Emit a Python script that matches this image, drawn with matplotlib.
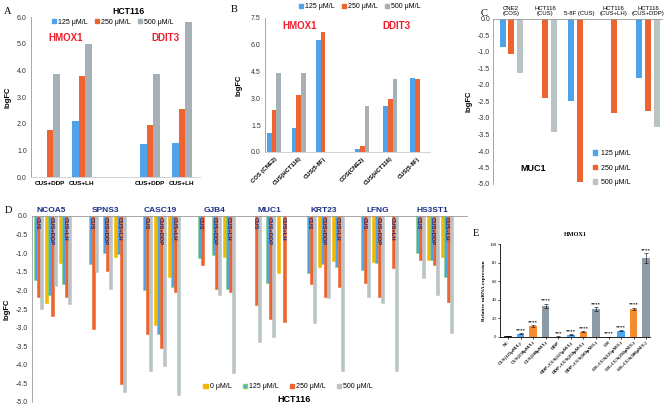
import numpy as np
import matplotlib.pyplot as plt
from matplotlib.patches import Patch

plt.rcParams['font.family'] = ['Liberation Sans', 'DejaVu Sans']

W, H = 668, 407

# ---------------- data ----------------
# A: HCT116, HMOX1 / DDIT3
a_labels = ['CUS+DDP', 'CUS+LH', 'CUS+DDP', 'CUS+LH']
a_pos = [0, 1, 3.125, 4.125]
a_125 = [np.nan, 2.1, 1.23, 1.28]
a_250 = [1.78, 3.8, 1.95, 2.55]
a_500 = [3.85, 5.0, 3.87, 5.82]

# B: HMOX1 / DDIT3 in several cell lines
b_labels = ['COS (CNE2)', 'CUS(HCT116)', 'CUS(5-8F)', 'COS(CNE2)', 'CUS(HCT116)', 'CUS(5-8F)']
b_pos = [0, 1, 2, 3.6, 4.75, 5.85]
b_125 = [1.05, 1.35, 6.25, 0.18, 2.6, 4.12]
b_250 = [2.35, 3.2, 6.7, 0.35, 2.97, 4.1]
b_500 = [4.4, 4.42, np.nan, 2.58, 4.1, np.nan]

# C: MUC1
c_labels = ['CNE2\n(COS)', 'HCT116\n(CUS)', '5-8F (CUS)', 'HCT116\n(CUS+LH)', 'HCT116\n(CUS+DDP)']
c_125 = [-0.85, np.nan, -2.5, np.nan, -1.8]
c_250 = [-1.07, -2.38, -4.95, -2.85, -2.78]
c_500 = [-1.65, -3.42, np.nan, np.nan, -3.28]

# D: HCT116 genes x treatments
d_genes = ['NCOA5', 'SPNS3', 'CASC19', 'GJB4', 'MUC1', 'KRT23', 'LFNG', 'HS3ST1']
d_treat = ['CUS', 'CUS+DDP', 'CUS+LH']
d_0 = [np.nan, -2.35, -1.25,  np.nan, np.nan, -1.09,  np.nan, -2.93, -1.63,  np.nan, np.nan, -1.09,
       np.nan, np.nan, -1.54,  np.nan, -1.36, -1.2,  np.nan, -1.23, np.nan,  np.nan, -1.18, -1.09]
d_125 = [-1.72, -2.12, -1.83,  -1.3, -0.99, -1.02,  -1.99, -3.17, -1.9,  -1.14, -1.05, -1.97,
         np.nan, -1.79, np.nan,  -1.54, -1.3, -1.38,  -1.45, -1.27, np.nan,  -1.0, -1.18, -1.63]
d_250 = [-2.17, -2.7, -2.18,  -3.05, -1.47, -4.52,  -3.17, -3.56, -2.03,  -1.32, -1.97, -2.03,
         -2.39, -2.78, -2.86,  -1.83, -2.17, -1.92,  -1.81, -2.17, -1.41,  -1.18, -1.32, -2.3]
d_500 = [-2.5, -1.88, -2.37,  -1.5, -1.95, -4.72,  -4.18, -4.03, -4.81,  np.nan, -2.12, -4.21,
         -3.4, -3.26, np.nan,  -2.87, -2.21, -4.18,  -2.17, -2.35, -4.18,  -1.66, -2.12, -3.14]

# E: HMOX1 relative mRNA expression
e_labels = ['NC', 'CUS(125μM/L)', 'CUS(250μM/L)', 'CUS(500μM/L)', 'DDP',
            'DDP+CUS(125μM/L)', 'DDP+CUS(250μM/L)', 'DDP+CUS(500μM/L)', 'LH',
            'LH+CUS(125μM/L)', 'LH+CUS(250μM/L)', 'LH+CUS(500μM/L)']
e_vals = [1.0, 3.5, 11.8, 33.5, 0.5, 2.2, 5.7, 30.0, 0.4, 6.8, 30.0, 85.0]
e_err = [0.1, 0.6, 0.8, 2.5, 0.1, 0.5, 0.4, 2.0, 0.1, 0.6, 1.5, 5.0]
e_stars = ['', '****', '****', '****', '***', '****', '****', '****', '****', '****', '****', '****']

doses = ['125 μM/L', '250 μM/L', '500 μM/L']
BLUE, ORANGE, GRAY, GRAY2 = '#4FA3EA', '#EE6430', '#A6B1B5', '#BAC4C7'
YELLOW, GREEN = '#F5B800', '#7ED957'
RED = '#F01E2C'
NAVY = '#1B2F86'


def box(l, t, r, b):
    return [l / W, 1 - b / H, (r - l) / W, (b - t) / H]


def fxy(x, y):
    return x / W, 1 - y / H


fig = plt.figure(figsize=(W / 100, H / 100), dpi=100)
fs = 5

# ---------------- A ----------------
ax = fig.add_axes(box(31, 17, 200, 177))
w = 0.21
x = np.array(a_pos)
for off, vals, c in [(-w, a_125, BLUE), (0, a_250, ORANGE), (w, a_500, GRAY)]:
    ax.bar(x + off, vals, w, color=c)
ax.set_xlim(-0.59, 4.69)
ax.set_ylim(0, 6)
ax.set_yticks(np.arange(0, 6.1, 1))
ax.set_yticklabels([f'{v:.1f}' for v in np.arange(0, 6.1, 1)], fontsize=fs, color='#333333')
ax.set_xticks(x)
ax.set_xticklabels(a_labels, fontsize=4.6, fontweight='bold')
ax.tick_params(length=0, pad=3)
for s in ['top', 'right']:
    ax.spines[s].set_visible(False)
ax.spines['left'].set_color('#999999')
ax.spines['bottom'].set_color('#cccccc')
ax.spines['left'].set_linewidth(0.6)
ax.spines['bottom'].set_linewidth(0.6)
ax.set_ylabel('logFC', fontsize=5.5, fontweight='bold', labelpad=4)
ax.text(0.5, 5.1, 'HMOX1', color=RED, fontsize=7, fontweight='bold', ha='center')
ax.text(3.625, 5.1, 'DDIT3', color=RED, fontsize=7, fontweight='bold', ha='center')
fig.text(*fxy(128, 11), 'HCT116', fontsize=6.2, fontweight='bold', ha='center', va='center')
ax.legend([Patch(color=c) for c in (BLUE, ORANGE, GRAY)], doses, loc='center',
          bbox_to_anchor=fxy(113, 22), bbox_transform=fig.transFigure, ncol=3,
          frameon=False, fontsize=fs, handlelength=0.6, handleheight=0.6,
          handletextpad=0.3, columnspacing=1.0)

# ---------------- B ----------------
ax = fig.add_axes(box(265, 18, 430, 152))
w = 0.19
x = np.array(b_pos)
for off, vals, c in [(-w, b_125, BLUE), (0, b_250, ORANGE), (w, b_500, GRAY)]:
    ax.bar(x + off, vals, w, color=c)
ax.set_xlim(-0.37, 6.37)
ax.set_ylim(0, 7.5)
yt = np.arange(0, 7.6, 1.5)
ax.set_yticks(yt)
ax.set_yticklabels([f'{v:.1f}' for v in yt], fontsize=fs, color='#333333')
ax.set_xticks(x)
ax.set_xticklabels(b_labels, fontsize=4.2, fontweight='bold', rotation=45,
                   ha='right', rotation_mode='anchor')
ax.tick_params(length=0, pad=3)
for s in ['top', 'right']:
    ax.spines[s].set_visible(False)
ax.spines['left'].set_color('#999999')
ax.spines['bottom'].set_color('#cccccc')
ax.spines['left'].set_linewidth(0.6)
ax.spines['bottom'].set_linewidth(0.6)
ax.set_ylabel('logFC', fontsize=5.5, fontweight='bold', labelpad=6)
ax.text(1.05, 6.9, 'HMOX1', color=RED, fontsize=7, fontweight='bold', ha='center')
ax.text(5.0, 6.9, 'DDIT3', color=RED, fontsize=7, fontweight='bold', ha='center')
ax.legend([Patch(color=c) for c in (BLUE, ORANGE, GRAY)], doses, loc='center',
          bbox_to_anchor=fxy(360, 7), bbox_transform=fig.transFigure, ncol=3,
          frameon=False, fontsize=fs, handlelength=0.6, handleheight=0.6,
          handletextpad=0.3, columnspacing=1.0)

# ---------------- C ----------------
ax = fig.add_axes(box(493, 19, 662, 184))
w = 0.175
x = np.arange(len(c_labels))
for off, vals, c in [(-0.25, c_125, BLUE), (0, c_250, ORANGE), (0.25, c_500, GRAY2)]:
    ax.bar(x + off, vals, w, color=c)
ax.set_xlim(-0.53, 4.41)
ax.set_ylim(-5, 0)
yt = np.arange(0, -5.01, -0.5)
ax.set_yticks(yt)
ax.set_yticklabels([f'{v:.1f}' for v in yt], fontsize=fs, color='#333333')
ax.xaxis.tick_top()
ax.set_xticks(x)
ax.set_xticklabels(c_labels, fontsize=4.3, linespacing=1.0)
ax.tick_params(length=0, pad=2)
for s in ['bottom', 'right']:
    ax.spines[s].set_visible(False)
for s in ['left', 'top']:
    ax.spines[s].set_color('#999999')
    ax.spines[s].set_linewidth(0.6)
ax.set_ylabel('logFC', fontsize=5.5, fontweight='bold', labelpad=4)
ax.text(0.65, -4.6, 'MUC1', fontsize=6.5, fontweight='bold', ha='center')
ax.legend([Patch(color=c) for c in (BLUE, ORANGE, GRAY2)], doses, loc='center',
          bbox_to_anchor=fxy(612, 168), bbox_transform=fig.transFigure, ncol=1,
          frameon=False, fontsize=fs, handlelength=0.6, handleheight=0.6,
          handletextpad=0.5, labelspacing=1.1)

# ---------------- D ----------------
ax = fig.add_axes(box(32, 216, 467, 402))
bw = 0.055
sub = 0.257
gx = np.arange(len(d_genes))
tx = (gx[:, None] + (np.arange(3) - 1) * sub).ravel()
for k, (vals, c, ec) in enumerate([(d_0, YELLOW, YELLOW), (d_125, BLUE, GREEN),
                                   (d_250, ORANGE, ORANGE), (d_500, GRAY2, GRAY2)]):
    ax.bar(tx + (k - 1.5) * bw, vals, bw, color=c, edgecolor=ec, linewidth=0.4)
for xx, t in zip(tx, d_treat * len(d_genes)):
    ax.text(xx, -0.04, t, rotation=-90, fontsize=4.2, fontweight='bold', color=NAVY,
            ha='center', va='top')
for g, name in zip(gx, d_genes):
    ax.text(g, 0.05, name, fontsize=6, fontweight='bold', color=NAVY, ha='center', va='bottom')
ax.set_xlim(-0.35, 7.63)
ax.set_ylim(-5, 0)
yt = np.arange(0, -5.01, -0.5)
ax.set_yticks(yt)
ax.set_yticklabels([f'{v:.1f}' for v in yt], fontsize=fs, color='#333333')
ax.set_xticks([])
ax.tick_params(length=0, pad=3)
for s in ['bottom', 'right']:
    ax.spines[s].set_visible(False)
for s in ['left', 'top']:
    ax.spines[s].set_color('#999999')
    ax.spines[s].set_linewidth(0.6)
ax.set_ylabel('logFC', fontsize=5.5, fontweight='bold', labelpad=4)
ax.legend([Patch(color=YELLOW), Patch(facecolor=BLUE, edgecolor=GREEN),
           Patch(color=ORANGE), Patch(color=GRAY2)],
          ['0 μM/L'] + doses, loc='center', bbox_to_anchor=fxy(288, 387),
          bbox_transform=fig.transFigure, ncol=4, frameon=False, fontsize=fs,
          handlelength=0.6, handleheight=0.6, handletextpad=0.3, columnspacing=1.6)
fig.text(*fxy(294, 400), 'HCT116', fontsize=6.5, fontweight='bold', ha='center', va='center')

# ---------------- E ----------------
ax = fig.add_axes(box(500, 244, 650, 337))
x = np.arange(len(e_labels))
e_cols = ['#333333', '#4DA6F5', '#F78B2F', '#8D9BA7'] * 3
e_cols[4] = '#333333'
e_cols[8] = '#333333'
ax.bar(x, e_vals, 0.6, color=e_cols, yerr=e_err, ecolor='black',
       error_kw=dict(elinewidth=0.4, capsize=1.2, capthick=0.4))
for xi, v, er, s in zip(x, e_vals, e_err, e_stars):
    ax.text(xi, v + er + 1, s, fontsize=3.5, ha='center', va='bottom',
            family='Liberation Serif', fontweight='bold')
ax.set_xlim(-0.64, 11.3)
ax.set_ylim(0, 100)
ax.set_yticks(np.arange(0, 101, 20))
ax.set_yticklabels([str(v) for v in range(0, 101, 20)], fontsize=3.5, family='Liberation Serif')
ax.set_xticks(x)
ax.set_xticklabels(e_labels, fontsize=3.4, rotation=45, ha='right',
                   rotation_mode='anchor', family='Liberation Serif', fontweight='bold')
ax.tick_params(length=1.5, width=0.5, pad=1)
for s in ['top', 'right']:
    ax.spines[s].set_visible(False)
for s in ['left', 'bottom']:
    ax.spines[s].set_linewidth(0.6)
ax.set_ylabel('Relative mRNA expression', fontsize=3.8, family='Liberation Serif',
              fontweight='bold', labelpad=2)
ax.set_title('HMOX1', fontsize=4.5, family='Liberation Serif', fontweight='bold', pad=6)

# panel letters
for lab, (px, py) in zip('ABCDE', [(8, 11), (234, 10), (484, 13), (8, 210), (476, 234)]):
    fig.text(*fxy(px, py), lab, fontsize=7.5, family='Liberation Serif', ha='center', va='center')

fig.savefig('out.png', dpi=100)
